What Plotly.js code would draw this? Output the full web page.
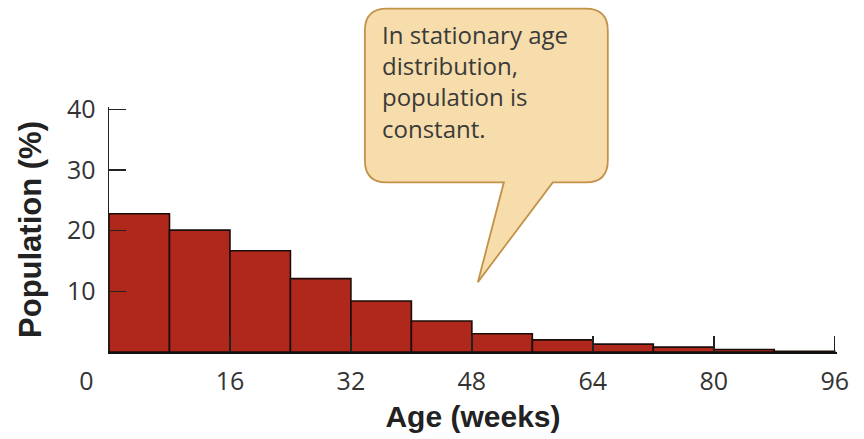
<!DOCTYPE html>
<html><head><meta charset="utf-8">
<script src="https://cdn.plot.ly/plotly-3.0.1.min.js"></script>
<style>html,body{margin:0;padding:0;background:#fff}#chart{width:864px;height:439px}</style>
</head><body><div id="chart"></div>
<script>
// Data
const binStart = [0, 8, 16, 24, 32, 40, 48, 56, 64, 72, 80, 88];
const populationPct = [22.8, 20.1, 16.7, 12.1, 8.4, 5.1, 3.0, 2.0, 1.3, 0.8, 0.4, 0.1];
const xTickVals = [0, 16, 32, 48, 64, 80, 96];
const xTickText = ['0' + '\u00A0'.repeat(7), '16', '32', '48', '64', '80', '96'];
const yTickVals = [10, 20, 30, 40];
const yTickText = ['10', '20', '30', '40'];
const calloutLines = ['In stationary age', 'distribution,', 'population is', 'constant.'];

// Layout geometry (ranges padded slightly so the end ticks at 40 and 96 are kept)
const W = 864, H = 439;
const xRange = [0, 96.3], yRange = [0, 40.4];
const M = {l: 109, r: 26.7, t: 106.5, b: 87};
const PW = W - M.l - M.r, PH = H - M.t - M.b;
const fx = x => ((x - M.l) / PW).toFixed(4);
const fy = y => ((H - M.b - y) / PH).toFixed(4);
const pt = (x, y) => fx(x) + ',' + fy(y);

// speech bubble (decoration)
const bx0 = 365, bx1 = 608, by0 = 8, by1 = 182, r = 22;
const bubblePath = [
  'M', pt(bx0 + r, by0),
  'L', pt(bx1 - r, by0),
  'Q', pt(bx1, by0), pt(bx1, by0 + r),
  'L', pt(bx1, by1 - r),
  'Q', pt(bx1, by1), pt(bx1 - r, by1),
  'L', pt(553, by1),
  'L', pt(478, 282),
  'L', pt(504, by1),
  'L', pt(bx0 + r, by1),
  'Q', pt(bx0, by1), pt(bx0, by1 - r),
  'L', pt(bx0, by0 + r),
  'Q', pt(bx0, by0), pt(bx0 + r, by0),
  'Z'
].join(' ');

const trace = {
  type: 'bar',
  x: binStart,
  y: populationPct,
  width: 8,
  offset: 0,
  marker: {color: '#b0281c', line: {color: '#1a0c0a', width: 1.6}},
  hoverinfo: 'skip'
};

const tickFont = {family: '"Open Sans", "Noto Sans", sans-serif', size: 25, color: '#333'};
const xTitleFont = {family: '"Liberation Sans", Arial, sans-serif', size: 30, color: '#222', weight: 'bold'};
const yTitleFont = {family: '"Liberation Sans", Arial, sans-serif', size: 31, color: '#222', weight: 'bold'};

const layout = {
  width: W, height: H,
  margin: M,
  paper_bgcolor: '#fff', plot_bgcolor: '#fff',
  showlegend: false,
  bargap: 0,
  xaxis: {
    range: xRange, fixedrange: true,
    tickmode: 'array', tickvals: xTickVals, ticktext: xTickText,
    ticks: 'inside', ticklen: 16, tickwidth: 1.5, tickcolor: '#222',
    showline: true, linecolor: '#111', linewidth: 2,
    showgrid: false, zeroline: false,
    tickfont: tickFont, ticklabelstandoff: 6,
    title: {text: '<b>Age (weeks)</b>', font: xTitleFont, standoff: 10}
  },
  yaxis: {
    range: yRange, fixedrange: true,
    tickmode: 'array', tickvals: yTickVals, ticktext: yTickText,
    ticks: 'inside', ticklen: 17, tickwidth: 1.5, tickcolor: '#222',
    showline: true, linecolor: '#222', linewidth: 1.5,
    showgrid: false, zeroline: false,
    tickfont: tickFont, ticklabelstandoff: 7,
    title: {text: '<b>Population (%)</b>', font: yTitleFont, standoff: 16}
  },
  shapes: [{
    type: 'path', xref: 'paper', yref: 'paper', path: bubblePath,
    fillcolor: '#f6ddab', line: {color: '#c2924a', width: 1.8}, layer: 'above'
  }],
  annotations: [{
    xref: 'paper', yref: 'paper', x: fx(380), y: fy(15),
    xanchor: 'left', yanchor: 'top', align: 'left', showarrow: false,
    text: calloutLines.join('<br>'),
    font: {family: '"Open Sans", "Noto Sans", sans-serif', size: 24, color: '#3a3a3a'}
  }]
};

Plotly.newPlot('chart', [trace], layout, {displayModeBar: false, staticPlot: true});
</script>
</body></html>
